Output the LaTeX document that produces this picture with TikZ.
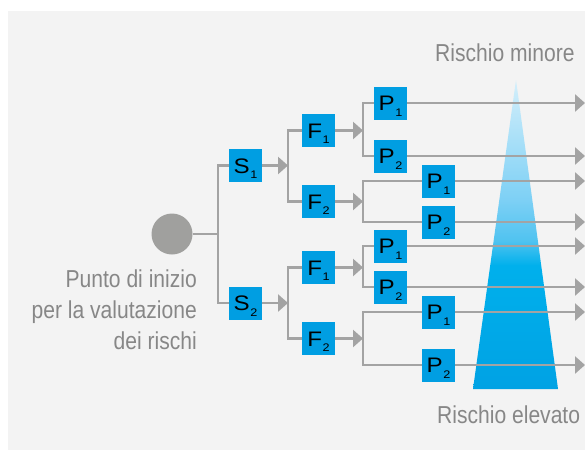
\documentclass[tikz,border=0pt]{standalone}
\usepackage{fontspec}
\setmainfont{Liberation Sans}
\newfontfamily\condfont{Liberation Sans}[FakeStretch=0.86]
\newfontfamily\boxfont{Liberation Sans}[FakeStretch=1.15]
\usetikzlibrary{arrows.meta}
\definecolor{bgc}{RGB}{243,243,243}
\definecolor{linec}{RGB}{163,163,163}
\definecolor{circc}{RGB}{160,160,158}
\definecolor{boxc}{RGB}{0,158,226}
\definecolor{txtc}{RGB}{135,135,135}
\definecolor{tA}{RGB}{212,239,251}
\definecolor{tB}{RGB}{125,208,245}
\definecolor{tC}{RGB}{80,195,240}
\definecolor{tD}{RGB}{0,176,236}
\definecolor{tE}{RGB}{0,162,228}
\pgfdeclareverticalshading{risk}{100bp}{color(0bp)=(tE); color(25bp)=(tE); color(45bp)=(tD); color(49bp)=(tC); color(55.6bp)=(tB); color(75bp)=(tA); color(100bp)=(tA)}
\newcommand\blab[2]{#1\kern0.5pt\raisebox{-5.5pt}{\fontsize{11}{11}\selectfont #2}}
\begin{document}
\begin{tikzpicture}[x=1pt,y=-1pt,
  ln/.style={draw=linec, line width=2.8pt},
  arr/.style={ln, -{Triangle[length=10pt,width=17pt]}},
  bx/.style={fill=boxc, minimum size=33pt, inner sep=0pt, text height=15pt, text depth=0pt, font=\boxfont\fontsize{21}{21}\selectfont},
  captext/.style={text=txtc, font=\condfont\fontsize{24.5}{31}\selectfont, inner sep=0pt}]
\useasboundingbox (0,0) rectangle (585,450);
\fill[bgc] (8,11) rectangle (585,450);
\shade[shading=risk] (516,80) -- (558,389) -- (473,389) -- cycle;

% texts
\node[captext, anchor=base west] (tmin) at (435,61) {Rischio minore};
\node[captext, anchor=base west] (tel) at (437,423) {Rischio elevato};
\node[captext, anchor=base east] (tstart) at (197,287) {\begin{tabular}[t]{@{}r@{}}Punto di inizio\\per la valutazione\\dei rischi\end{tabular}};

% nodes
\node[circle, fill=circc, minimum size=41pt, inner sep=0pt] (c) at (172,234) {};
\node[bx] (s1) at (245.5,165.5) {\blab{S}{1}};
\node[bx] (s2) at (245.5,303) {\blab{S}{2}};
\node[bx] (f11) at (318.5,130.5) {\blab{F}{1}};
\node[bx] (f12) at (318.5,201.5) {\blab{F}{2}};
\node[bx] (f21) at (318.5,267.5) {\blab{F}{1}};
\node[bx] (f22) at (318.5,338.5) {\blab{F}{2}};
\node[bx] (p111) at (390.5,103) {\blab{P}{1}};
\node[bx] (p112) at (390.5,156) {\blab{P}{2}};
\node[bx] (p121) at (438.5,181) {\blab{P}{1}};
\node[bx] (p122) at (438.5,222) {\blab{P}{2}};
\node[bx] (p211) at (390.5,246) {\blab{P}{1}};
\node[bx] (p212) at (390.5,287) {\blab{P}{2}};
\node[bx] (p221) at (438.5,312) {\blab{P}{1}};
\node[bx] (p222) at (438.5,365) {\blab{P}{2}};

% junctions
\coordinate (j0) at (218,234);
\coordinate (j1) at (288,165.5);
\coordinate (j2) at (288,303);
\coordinate (j11) at (363,130.5);
\coordinate (j12) at (363,201.5);
\coordinate (j21) at (363,267.5);
\coordinate (j22) at (363,338.5);
\foreach \n/\y in {1/103,2/156,3/181,4/222,5/246,6/287,7/312,8/365}
  \coordinate (e\n) at (585,\y);

% connectors
\draw[ln] (c) -- (j0);
\draw[ln] (s1) -| (j0) |- (s2);
\draw[arr] (s1) -- (j1);
\draw[arr] (s2) -- (j2);
\draw[ln] (f11) -| (j1) |- (f12);
\draw[ln] (f21) -| (j2) |- (f22);
\draw[arr] (f11) -- (j11);
\draw[arr] (f12) -- (j12);
\draw[arr] (f21) -- (j21);
\draw[arr] (f22) -- (j22);
\draw[ln] (p111) -| (j11) |- (p112);
\draw[ln] (p121) -| (j12) |- (p122);
\draw[ln] (p211) -| (j21) |- (p212);
\draw[ln] (p221) -| (j22) |- (p222);
\draw[arr] (p111) -- (e1);
\draw[arr] (p112) -- (e2);
\draw[arr] (p121) -- (e3);
\draw[arr] (p122) -- (e4);
\draw[arr] (p211) -- (e5);
\draw[arr] (p212) -- (e6);
\draw[arr] (p221) -- (e7);
\draw[arr] (p222) -- (e8);
\end{tikzpicture}
\end{document}
